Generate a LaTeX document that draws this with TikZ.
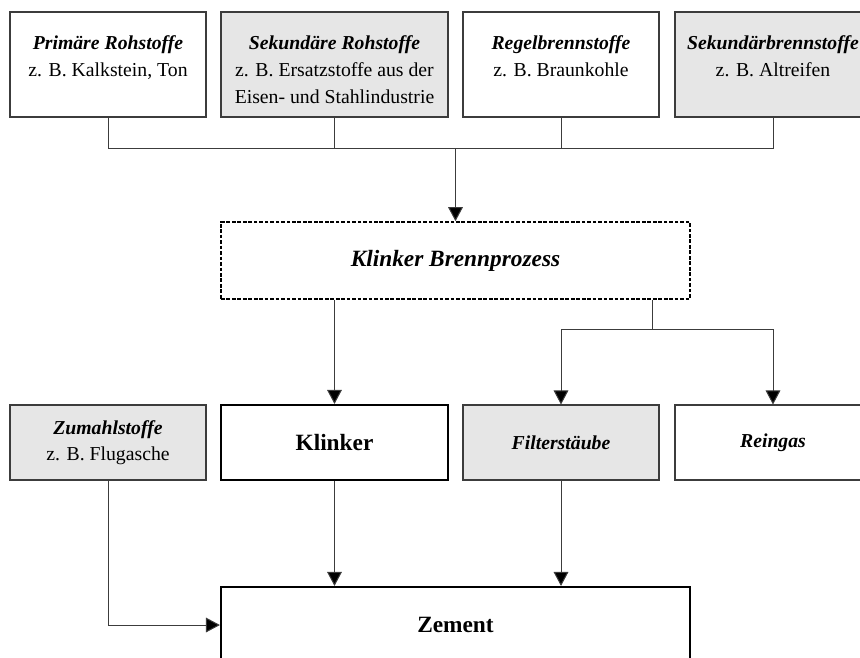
\documentclass[tikz,border=0pt]{standalone}
\usepackage{fontspec}
\setmainfont{Liberation Serif}
\usetikzlibrary{arrows.meta}

\definecolor{fuell}{RGB}{230,230,230}
\definecolor{rand}{RGB}{60,60,60}
\tikzset{every picture/.style={line width=0.75pt}}
\tikzset{
  kasten/.style={draw=rand, line width=0.8pt, minimum width=147pt, minimum height=78.75pt, inner sep=0pt},
  breitkasten/.style={kasten, minimum width=170.25pt},
  unten/.style={draw=rand, line width=0.8pt, minimum width=147pt, minimum height=56.25pt, inner sep=0pt, align=center, font=\fontsize{14.8}{19.5}\selectfont},
  fett/.style={draw=black, line width=1.6pt, inner sep=0pt, font=\fontsize{17.5}{21}\selectfont\bfseries},
  kopf/.style={anchor=north, inner sep=0pt, yshift=-18pt, align=center, font=\fontsize{14.8}{20.25}\selectfont},
  pfeil/.style={draw=rand, -{Triangle[length=10.5pt,width=11pt,fill=black]}}
}

\begin{document}
\begin{tikzpicture}[x=0.75pt,y=0.75pt,yscale=-1,xscale=1]
\useasboundingbox (0,0) rectangle (860,657);

% Ausgangsstoffe
\node [kasten, fill=white, label={[kopf]north:{\textbf{\textit{Primäre Rohstoffe}}\\z. B. Kalkstein, Ton}}] (prim) at (108,64.5) {};
\node [breitkasten, fill=fuell, label={[kopf]north:{\textbf{\textit{Sekundäre Rohstoffe}}\\z. B. Ersatzstoffe aus der\\Eisen- und Stahlindustrie}}] (sekroh) at (334.5,64.5) {};
\node [kasten, fill=white, label={[kopf]north:{\textbf{\textit{Regelbrennstoffe}}\\z. B. Braunkohle}}] (regel) at (561,64.5) {};
\node [kasten, fill=fuell, label={[kopf]north:{\textbf{\textit{Sekundärbrennstoffe}}\\z. B. Altreifen}}] (sekbr) at (773,64.5) {};

% Prozess
\node [draw=black, line width=1.2pt, dash pattern={on 2.8pt off 1.3pt}, minimum width=351.75pt, minimum height=57.75pt, inner sep=0pt, font=\fontsize{17.5}{21}\selectfont\bfseries\itshape] (brenn) at (455.5,260.5) {Klinker Brennprozess};

% Produkte
\node [unten, fill=fuell] (zumahl) at (108,442.5) {\textbf{\textit{Zumahlstoffe}}\\z. B. Flugasche};
\node [fett, minimum width=170.25pt, minimum height=56.25pt] (klinker) at (334.5,442.5) {Klinker};
\node [unten, fill=fuell] (filter) at (561,442.5) {\textbf{\textit{Filterstäube}}};
\node [unten, fill=white] (rein) at (773,442.5) {\textbf{\textit{Reingas}}};
\node [fett, minimum width=351.75pt, minimum height=57pt] (zement) at (455.5,625) {Zement};

% Verbindungen
\coordinate (sammel) at (455.5,148);
\coordinate (abzw) at (652,329);
\draw [draw=rand] (prim.south) |- (sammel);
\draw [draw=rand] (sekroh.south) |- (sammel);
\draw [draw=rand] (regel.south) |- (sammel);
\draw [draw=rand] (sekbr.south) |- (sammel);
\draw [pfeil] (sammel) -- (brenn.north);
\draw [pfeil] (klinker.north |- brenn.south) -- (klinker.north);
\draw [draw=rand] (abzw |- brenn.south) -- (abzw);
\draw [pfeil] (abzw) -| (filter.north);
\draw [pfeil] (abzw) -| (rein.north);
\draw [pfeil] (klinker.south) -- (klinker.south |- zement.north);
\draw [pfeil] (filter.south) -- (filter.south |- zement.north);
\draw [pfeil] (zumahl.south) |- (zement.west);
\end{tikzpicture}
\end{document}
